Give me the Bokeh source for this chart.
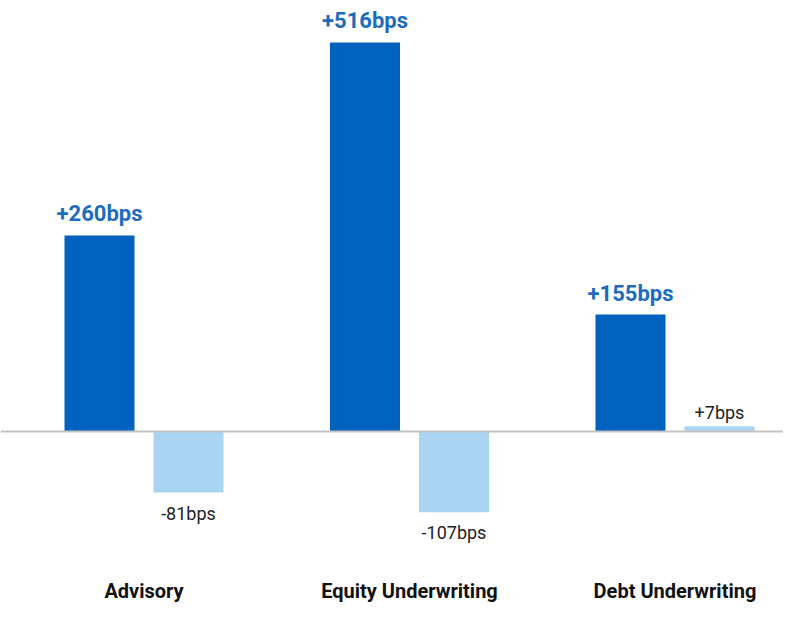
from bokeh.plotting import figure
from bokeh.models import ColumnDataSource, Range1d, Span, FixedTicker
from bokeh.core.properties import value
from bokeh.embed import file_html
from bokeh.resources import INLINE

categories = ["Advisory", "Equity Underwriting", "Debt Underwriting"]
series_a = [260, 516, 155]
series_b = [-81, -107, 7]
labels_a = ["+260bps", "+516bps", "+155bps"]
labels_b = ["-81bps", "-107bps", "+7bps"]

DARK = "#0062BF"
LIGHT = "#A9D5F3"

xs = list(range(len(categories)))
off = 0.1676
w = 0.2637

p = figure(width=783, height=605, output_backend="svg", toolbar_location=None,
           x_range=Range1d(-0.5405, 2.4087), y_range=Range1d(-169.8, 571.6),
           min_border_left=0, min_border_right=0, min_border_top=0, min_border_bottom=0)
p.outline_line_color = None
p.grid.visible = False
p.yaxis.visible = False
p.background_fill_color = "white"
p.border_fill_color = "white"

src_a = ColumnDataSource(dict(x=[x - off for x in xs], top=series_a, label=labels_a))
src_b = ColumnDataSource(dict(
    x=[x + off for x in xs], top=series_b, label=labels_b,
    base=["top" if v < 0 else "alphabetic" for v in series_b],
    yoff=[10 if v < 0 else -14 for v in series_b],
))

p.vbar(x="x", top="top", bottom=0, width=w, source=src_a, fill_color=DARK, line_color=None)
p.vbar(x="x", top="top", bottom=0, width=w, source=src_b, fill_color=LIGHT, line_color=None)

p.add_layout(Span(location=0, dimension="width", line_color="#c4c4c4", line_width=2))

p.text(x="x", y="top", text="label", source=src_a, text_align="center", text_baseline="bottom",
       y_offset=-9, text_font=value("Roboto"), text_font_style="bold", text_font_size="22px",
       text_color="#1C6CBE")
p.text(x="x", y="top", text="label", source=src_b, text_align="center", text_baseline="base",
       y_offset="yoff", text_font=value("Roboto"), text_font_size="18px", text_color="#222222")

ax = p.xaxis[0]
ax.ticker = FixedTicker(ticks=xs)
ax.major_label_overrides = {i: c for i, c in enumerate(categories)}
ax.axis_line_color = None
ax.major_tick_line_color = None
ax.minor_tick_line_color = None
ax.major_label_text_font = "Roboto"
ax.major_label_text_font_style = "bold"
ax.major_label_text_font_size = "20px"
ax.major_label_text_color = "#111111"
ax.major_label_standoff = 13

open("out.html", "w").write(file_html(p, INLINE))
